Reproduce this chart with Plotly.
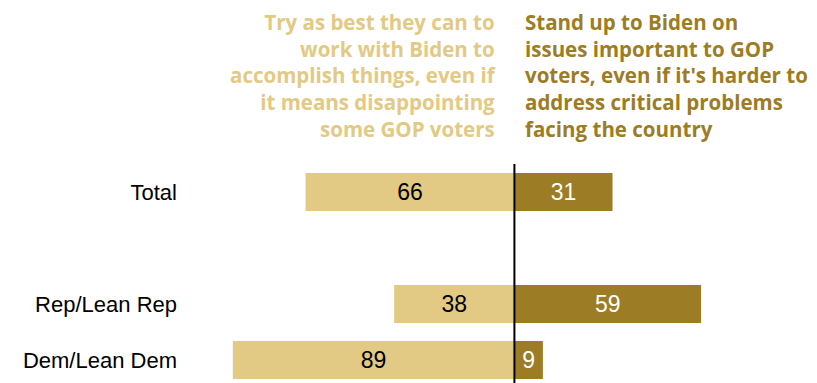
import plotly.graph_objects as go

categories = ["Total", "", "Rep/Lean Rep", "Dem/Lean Dem"]
work_with_biden = [66, None, 38, 89]
stand_up = [31, None, 59, 9]
header_left = "Try as best they can to<br>work with Biden to<br>accomplish things, even if<br>it means disappointing<br>some GOP voters"
header_right = "Stand up to Biden on<br>issues important to GOP<br>voters, even if it's harder to<br>address critical problems<br>facing the country"

LIGHT = "#E2C984"
DARK = "#9C7C24"
yv = list(range(len(categories)))

fig = go.Figure()
fig.add_trace(go.Bar(
    y=yv, x=[-v if v is not None else None for v in work_with_biden], orientation="h",
    width=0.68, marker=dict(color=LIGHT, line=dict(width=0)),
    text=[str(v) if v is not None else "" for v in work_with_biden],
    textposition="inside", insidetextanchor="middle",
    textfont=dict(color="black", size=23, family="Liberation Sans"),
    hoverinfo="skip", showlegend=False,
))
fig.add_trace(go.Bar(
    y=yv, x=stand_up, orientation="h", width=0.68,
    marker=dict(color=DARK, line=dict(width=0)),
    text=[str(v) if v is not None else "" for v in stand_up],
    textposition="inside", insidetextanchor="middle",
    textfont=dict(color="white", size=23, family="Liberation Sans"),
    hoverinfo="skip", showlegend=False,
))

fig.add_shape(type="line", xref="x", yref="paper", x0=0, x1=0, y0=0, y1=1,
              line=dict(color="black", width=2))

fig.add_annotation(text=header_left, xref="x", yref="paper", x=-5.1, y=1.406,
                   xanchor="right", yanchor="middle", align="right", showarrow=False,
                   font=dict(family="Open Sans", size=20.5, color=LIGHT, weight="bold"))
fig.add_annotation(text=header_right, xref="x", yref="paper", x=2.6, y=1.406,
                   xanchor="left", yanchor="middle", align="left", showarrow=False,
                   font=dict(family="Open Sans", size=20.5, color=DARK, weight="bold"))

fig.update_layout(
    barmode="overlay", width=817, height=383,
    margin=dict(l=197.5, r=2.3, t=164, b=0),
    paper_bgcolor="white", plot_bgcolor="white",
    xaxis=dict(range=[-100, 95], visible=False, showgrid=False, zeroline=False),
    yaxis=dict(range=[3.41, -0.5], tickmode="array", tickvals=yv, ticktext=categories,
               showgrid=False, zeroline=False, showline=False, ticks="", ticklen=0,
               ticklabelstandoff=20,
               tickfont=dict(family="Liberation Sans", size=22, color="black")),
    uniformtext=dict(minsize=10, mode="show"),
)

fig.write_html("out.html")
